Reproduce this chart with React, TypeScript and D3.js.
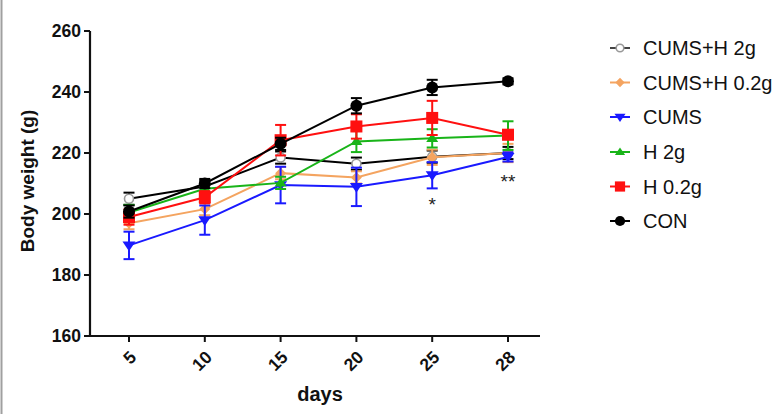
import React from "react";
import * as d3 from "d3";

const days = ["5", "10", "15", "20", "25", "28"];
const seriesNames = ["CUMS+H 2g", "CUMS+H 0.2g", "CUMS", "H 2g", "H 0.2g", "CON"];
const cumsH2Mean = [205, 209, 218.5, 216.5, 218.8, 220];
const cumsH2Err = [2, 2, 2, 2, 2, 2];
const cumsH02Mean = [197, 201.6, 213.4, 212, 218.6, 220];
const cumsH02Err = [2, 2, 2, 2, 2.5, 3];
const cumsMean = [189.7, 198, 209.5, 208.9, 212.7, 218.7];
const cumsErr = [4.5, 4.8, 6, 6.3, 4.3, 1.5];
const h2Mean = [200.5, 208.3, 210.2, 223.8, 224.8, 225.7];
const h2Err = [2.5, 1.5, 2, 3.5, 3, 4.7];
const h02Mean = [199, 205.5, 224.2, 228.7, 231.5, 226];
const h02Err = [2.5, 2, 5, 4, 5.6, 1.5];
const conMean = [200.8, 210, 223, 235.5, 241.5, 243.5];
const conErr = [2, 1.5, 2, 2.5, 2.5, 1];
const yTicks = [160, 180, 200, 220, 240, 260];
const stars = [
  { day: "25", value: 205.5, text: "*" },
  { day: "28", value: 213, text: "**" },
];

const colors = ["#000000", "#f4a460", "#1a1aff", "#19b419", "#ff1010", "#000000"];
const means = [cumsH2Mean, cumsH02Mean, cumsMean, h2Mean, h02Mean, conMean];
const errs = [cumsH2Err, cumsH02Err, cumsErr, h2Err, h02Err, conErr];
const markerKinds = ["opencircle", "diamond", "tridown", "triup", "square", "circle"];

const FONT = "'Liberation Sans', Arial, Helvetica, sans-serif";

function Marker({ kind, x, y, s = 1 }: { kind: string; x: number; y: number; s?: number }) {
  switch (kind) {
    case "opencircle":
      return <circle cx={x} cy={y} r={4.5 * s} fill="#ffffff" stroke="#999999" strokeWidth={1.6} />;
    case "diamond": {
      const r = 5.5 * s;
      return <path d={`M${x},${y - r}L${x + r},${y}L${x},${y + r}L${x - r},${y}Z`} fill="#f4a460" />;
    }
    case "tridown": {
      const r = 6.5 * s;
      return <path d={`M${x - r},${y - r * 0.6}L${x + r},${y - r * 0.6}L${x},${y + r * 0.9}Z`} fill="#1a1aff" />;
    }
    case "triup": {
      const r = 6 * s;
      return <path d={`M${x - r},${y + r * 0.6}L${x + r},${y + r * 0.6}L${x},${y - r * 0.9}Z`} fill="#19b419" />;
    }
    case "square": {
      const r = 6 * s;
      return <rect x={x - r} y={y - r} width={2 * r} height={2 * r} fill="#ff1010" />;
    }
    default:
      return <circle cx={x} cy={y} r={6 * s} fill="#000000" />;
  }
}

export default function App() {
  const x = d3.scalePoint<string>().domain(days).range([129, 508]);
  const y = d3.scaleLinear().domain([160, 260]).range([336, 31]);
  const line = d3
    .line<number>()
    .x((_, i) => x(days[i]) as number)
    .y((d) => y(d));

  const legendY = [48, 82.5, 117, 152, 186.5, 221];

  return (
    <div style={{ position: "fixed", left: 0, top: 0 }}>
      <svg width={782} height={414} style={{ display: "block", background: "#ffffff" }}>
        <rect x={0} y={0} width={782} height={414} fill="#ffffff" />
        <line x1={1.5} x2={1.5} y1={0} y2={414} stroke="#a0a0a0" strokeWidth={2} />

        {/* axes */}
        <line x1={90} x2={90} y1={y(260)} y2={y(160) + 1} stroke="#111" strokeWidth={2.2} />
        <line x1={89} x2={540} y1={y(160)} y2={y(160)} stroke="#111" strokeWidth={2.2} />
        {yTicks.map((t) => (
          <g key={t}>
            <line x1={84} x2={90} y1={y(t)} y2={y(t)} stroke="#111" strokeWidth={2} />
            <text x={81} y={y(t)} dy="0.36em" textAnchor="end" fontFamily={FONT} fontWeight="bold" fontSize={17.5} fill="#111">
              {t}
            </text>
          </g>
        ))}
        {days.map((d) => {
          const px = x(d) as number;
          return (
            <g key={d}>
              <line x1={px} x2={px} y1={336} y2={342} stroke="#111" strokeWidth={2} />
              <text
                transform={`translate(${px + 4},${354}) rotate(-45)`}
                textAnchor="end"
                dy="0.35em"
                fontFamily={FONT}
                fontWeight="bold"
                fontSize={17.5}
                fill="#111"
              >
                {d}
              </text>
            </g>
          );
        })}
        <text x={320} y={401} textAnchor="middle" fontFamily={FONT} fontWeight="bold" fontSize={20} fill="#111">
          days
        </text>
        <text
          transform={`translate(34,181) rotate(-90)`}
          textAnchor="middle"
          fontFamily={FONT}
          fontWeight="bold"
          fontSize={19}
          fill="#111"
        >
          Body weight (g)
        </text>

        {/* series */}
        {means.map((m, si) => (
          <g key={si}>
            <path d={line(m) as string} fill="none" stroke={colors[si]} strokeWidth={2} />
            {m.map((v, i) => {
              const px = x(days[i]) as number;
              const e = errs[si][i];
              return (
                <g key={i} stroke={colors[si]} strokeWidth={2}>
                  <line x1={px} x2={px} y1={y(v - e)} y2={y(v + e)} />
                  <line x1={px - 5.5} x2={px + 5.5} y1={y(v - e)} y2={y(v - e)} />
                  <line x1={px - 5.5} x2={px + 5.5} y1={y(v + e)} y2={y(v + e)} />
                </g>
              );
            })}
            {m.map((v, i) => (
              <Marker key={"m" + i} kind={markerKinds[si]} x={x(days[i]) as number} y={y(v)} />
            ))}
          </g>
        ))}

        {stars.map((s) => (
          <text
            key={s.day}
            x={x(s.day) as number}
            y={y(s.value)}
            dy="0.7em"
            textAnchor="middle"
            fontFamily={FONT}
            fontSize={19}
            fill="#222"
          >
            {s.text}
          </text>
        ))}

        {/* legend */}
        {seriesNames.map((n, i) => (
          <g key={n}>
            <line x1={610} x2={630} y1={legendY[i]} y2={legendY[i]} stroke={i === 0 ? "#444" : colors[i]} strokeWidth={2} />
            <Marker kind={markerKinds[i]} x={620} y={legendY[i]} s={0.85} />
            <text x={643} y={legendY[i]} dy="0.36em" fontFamily={FONT} fontSize={20} fill="#111">
              {n}
            </text>
          </g>
        ))}
      </svg>
    </div>
  );
}
